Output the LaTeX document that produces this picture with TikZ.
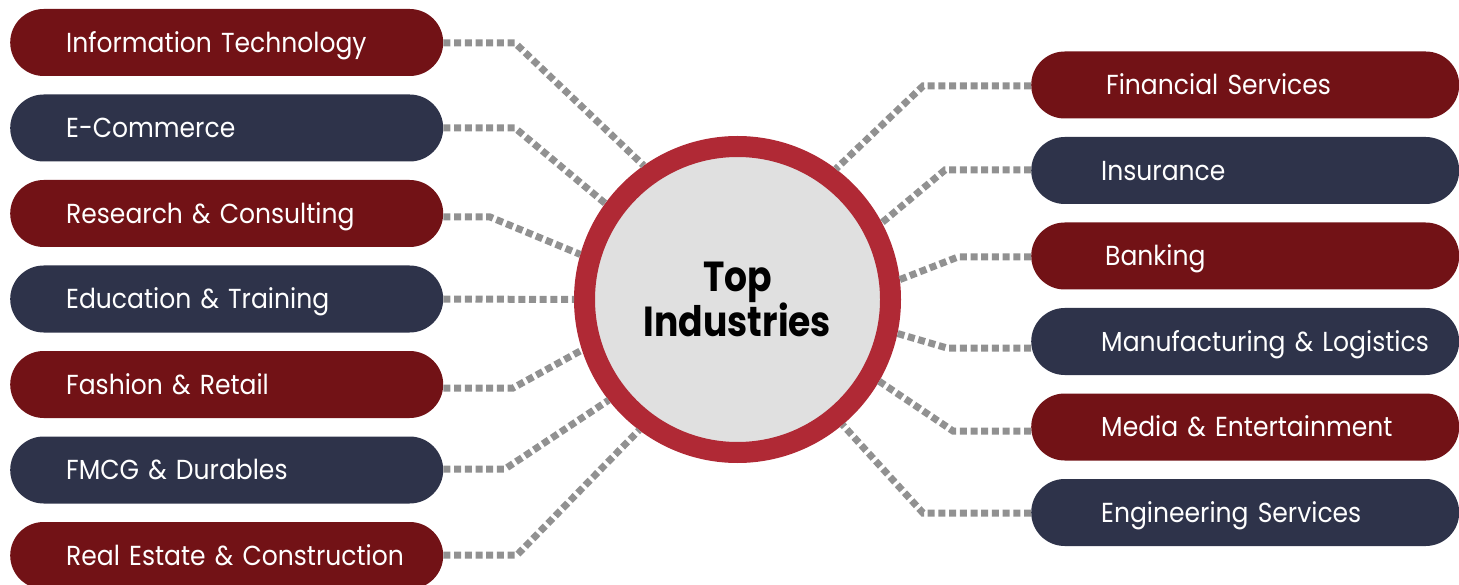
\documentclass[tikz,border=0pt]{standalone}
\usepackage{fontspec}
\setmainfont{Poppins}
\newfontfamily\pillfont[FakeStretch=0.91]{Poppins}
\newfontfamily\hubfont[FakeStretch=0.86]{Poppins}
\definecolor{pillred}{RGB}{114,18,22}
\definecolor{pillnavy}{RGB}{46,51,74}
\definecolor{ringred}{RGB}{176,41,53}
\definecolor{hubfill}{RGB}{224,224,224}
\definecolor{conngray}{RGB}{145,145,145}
\tikzset{
  pill/.style={rectangle, rounded corners=33.5pt, minimum height=67pt,
    inner xsep=0pt, inner ysep=0pt, text width=#1, align=left,
    text height=19.5pt, text depth=0pt,
    text=white, font=\pillfont\fontsize{27.5}{30}\selectfont},
  leftpill/.style={pill=433pt, anchor=west},
  rightpill/.style={pill=428pt, anchor=west},
  redfill/.style={fill=pillred},
  navyfill/.style={fill=pillnavy},
  conn/.style={draw=conngray, line width=7pt, dash pattern=on 7pt off 3.7pt},
  hubstyle/.style={circle, draw=ringred, line width=21pt, fill=hubfill,
    minimum size=306pt, inner sep=0pt, align=center,
    font=\hubfont\bfseries\fontsize{42}{41}\selectfont}
}
\begin{document}
\begin{tikzpicture}[x=1pt,y=-1pt]
\useasboundingbox (0,0) rectangle (1459,585);
\clip (0,0) rectangle (1459,585);
% hub
\node[hubstyle] (hub) at (737.5,299.5) {Top\\Industries};
% left pills
\node[leftpill, redfill]  (L1) at (10,42.5)  {\hspace*{56pt}\mbox{Information Technology}};
\node[leftpill, navyfill] (L2) at (10,128)   {\hspace*{56pt}\mbox{E-Commerce}};
\node[leftpill, redfill]  (L3) at (10,213.5) {\hspace*{56pt}\mbox{Research \& Consulting}};
\node[leftpill, navyfill] (L4) at (10,299)   {\hspace*{56pt}\mbox{Education \& Training}};
\node[leftpill, redfill]  (L5) at (10,384.5) {\hspace*{56pt}\mbox{Fashion \& Retail}};
\node[leftpill, navyfill] (L6) at (10,470)   {\hspace*{56pt}\mbox{FMCG \& Durables}};
\node[leftpill, redfill]  (L7) at (10,555.5) {\hspace*{56pt}\mbox{Real Estate \& Construction}};
% right pills
\node[rightpill, redfill]  (R1) at (1031,85)    {\hspace*{75pt}\mbox{Financial Services}};
\node[rightpill, navyfill] (R2) at (1031,170.5) {\hspace*{70pt}\mbox{Insurance}};
\node[rightpill, redfill]  (R3) at (1031,256)   {\hspace*{74pt}\mbox{Banking}};
\node[rightpill, navyfill] (R4) at (1031,341.5) {\hspace*{70pt}\mbox{Manufacturing \& Logistics}};
\node[rightpill, redfill]  (R5) at (1031,427)   {\hspace*{70pt}\mbox{Media \& Entertainment}};
\node[rightpill, navyfill] (R6) at (1031,512.5) {\hspace*{70pt}\mbox{Engineering Services}};
% bend points
\coordinate (b1) at (515,43);
\coordinate (b2) at (515,128);
\coordinate (b3) at (490,217);
\coordinate (b5) at (513,388);
\coordinate (b6) at (505,469);
\coordinate (b7) at (517,555);
\coordinate (c1) at (923,86);
\coordinate (c2) at (945,170);
\coordinate (c3) at (958,257);
\coordinate (c4) at (947,348);
\coordinate (c5) at (953,431);
\coordinate (c6) at (923,513);
% connectors
\draw[conn] (L1.east |- b1) -- (b1) -- (hub.125);
\draw[conn] (L2.east |- b2) -- (b2) -- (hub.144.5);
\draw[conn] (L3.east |- b3) -- (b3) -- (hub.164);
\draw[conn] (L4.east) -- (hub.180);
\draw[conn] (L5.east |- b5) -- (b5) -- (hub.198);
\draw[conn] (L6.east |- b6) -- (b6) -- (hub.218.5);
\draw[conn] (L7.east |- b7) -- (b7) -- (hub.233.6);
\draw[conn] (R1.west |- c1) -- (c1) -- (hub.53.5);
\draw[conn] (R2.west |- c2) -- (c2) -- (hub.28.8);
\draw[conn] (R3.west |- c3) -- (c3) -- (hub.7.5);
\draw[conn] (R4.west |- c4) -- (c4) -- (hub.348);
\draw[conn] (R5.west |- c5) -- (c5) -- (hub.330.5);
\draw[conn] (R6.west |- c6) -- (c6) -- (hub.310.7);
\end{tikzpicture}
\end{document}
